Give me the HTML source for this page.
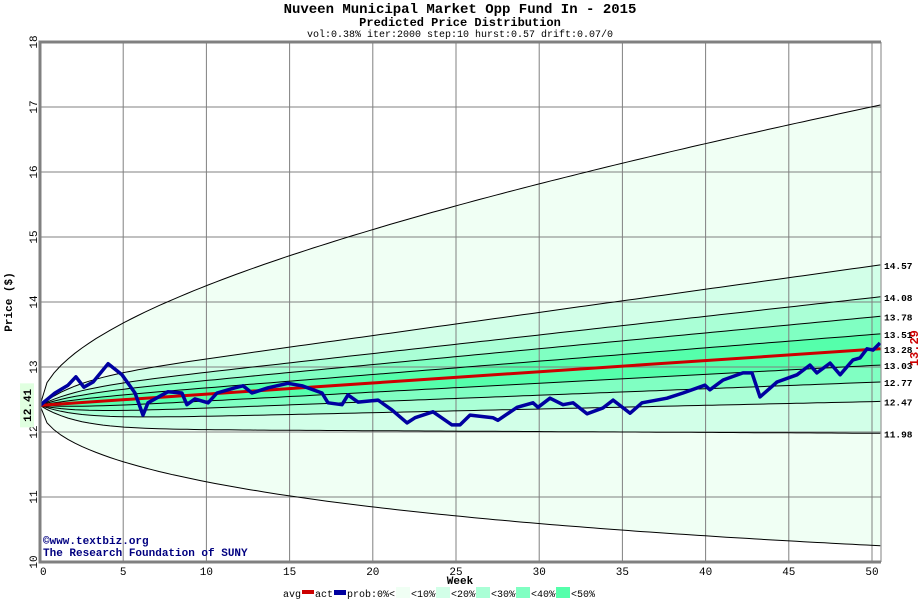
<!DOCTYPE html>
<html><head><meta charset="utf-8"><style>
body{margin:0;background:#fff;}
svg{display:block;font-family:"Liberation Mono",monospace;}
</style></head><body>
<svg id="chart" width="920" height="600" xmlns="http://www.w3.org/2000/svg">
<text x="460" y="13" text-anchor="middle" font-size="14" font-weight="bold">Nuveen Municipal Market Opp Fund In - 2015</text>
<text x="460" y="26" text-anchor="middle" font-size="12" font-weight="bold">Predicted Price Distribution</text>
<text x="460" y="37" text-anchor="middle" font-size="10">vol:0.38% iter:2000 step:10 hurst:0.57 drift:0.07/0</text>
<g id="plot"></g>
<text x="460" y="584" text-anchor="middle" font-size="11" font-weight="bold">Week</text>
<text transform="translate(12,302) rotate(-90)" text-anchor="middle" font-size="11" font-weight="bold">Price ($)</text>
<text x="43" y="544" font-size="11" font-weight="bold" fill="#000080">©www.textbiz.org</text>
<text x="43" y="556" font-size="11" font-weight="bold" fill="#000080">The Research Foundation of SUNY</text>
<g id="legend" font-size="10"></g>
</svg>
<script>
const weeks=[0,0.9,1.68,2.16,2.64,3.19,4.09,4.93,5.71,6.19,6.49,7.69,8.53,8.83,9.31,10.1,10.64,11.72,12.2,12.74,13.7,14.9,15.75,16.95,17.31,18.15,18.51,19.11,20.31,21.15,22.06,22.54,23.62,24.76,25.24,25.84,27.22,27.52,28.67,29.63,29.93,30.65,31.43,32.03,32.87,33.83,34.44,35.46,36.18,37.68,38.64,39.96,40.26,41.05,42.25,42.79,43.27,44.29,45.49,46.27,46.69,47.48,48.08,48.86,49.28,49.7,50.06,50.48];
const prices=[12.41,12.60,12.72,12.85,12.69,12.77,13.05,12.88,12.60,12.26,12.45,12.62,12.60,12.42,12.51,12.45,12.60,12.68,12.71,12.60,12.68,12.75,12.71,12.60,12.45,12.42,12.57,12.46,12.49,12.34,12.14,12.22,12.31,12.11,12.11,12.26,12.22,12.18,12.38,12.45,12.38,12.52,12.42,12.45,12.28,12.37,12.49,12.29,12.45,12.52,12.60,12.72,12.65,12.80,12.91,12.91,12.54,12.77,12.88,13.03,12.91,13.06,12.88,13.11,13.14,13.28,13.26,13.37];
const quantileEnds=[17.03,14.57,14.08,13.78,13.51,13.28,13.03,12.77,12.47,11.98,10.25];
const quantileLabels=["","14.57","14.08","13.78","13.51","13.28","13.03","12.77","12.47","11.98",""];
const startPrice=12.41, avgEnd=13.28, lastPrice=13.29, endWeek=50.5;
const xTicks=[0,5,10,15,20,25,30,35,40,45,50];
const yTicks=[10,11,12,13,14,15,16,17,18];
const bandColors=["#f0fff4","#d2ffe8","#aaffd6","#80ffc2","#55ffab"];
const legendLabels=["<10%<","<20%<","<30%<","<40%<","<50%"];

const NS="http://www.w3.org/2000/svg";
const X0=40,X1=881,Y0=42,Y1=562;
const xs=w=>X0+w*16.64;
const ys=p=>Y1-(p-10)*65;
const plot=document.getElementById('plot');
function el(t,a,parent){const e=document.createElementNS(NS,t);for(const k in a)e.setAttribute(k,a[k]);(parent||plot).appendChild(e);return e;}
function fracInner(t){return (0.28+0.72*t/endWeek)*(1-Math.exp(-t/2));}
function fracOuter(t){return Math.sqrt(t/endWeek);}
function qv(end,t,outer){const m=startPrice+(avgEnd-startPrice)*t/endWeek;const f=outer?fracOuter(t)/fracOuter(endWeek):fracInner(t)/fracInner(endWeek);return m+(end-avgEnd)*f;}
function curve(i){const end=quantileEnds[i];const outer=(i==0||i==quantileEnds.length-1);const pts=[];for(let k=0;k<=120;k++){const t=k*endWeek/120;pts.push([xs(t),ys(qv(end,t,outer))]);}return pts;}

const bg=el('rect',{x:X0,y:Y0,width:X1-X0,height:Y1-Y0,fill:'#fff'});


for(let b=0;b<5;b++){
  const up=curve(b),lo=curve(quantileEnds.length-1-b).reverse();
  const d='M'+up.concat(lo).map(p=>p[0].toFixed(1)+','+p[1].toFixed(1)).join('L')+'Z';
  const p=el('path',{d:d,fill:bandColors[b]});
  
  
}
xTicks.forEach(w=>{
  const l=el('line',{x1:xs(w),x2:xs(w),y1:Y0,y2:Y1,stroke:'#808080','stroke-width':1});
  
  
  const t=el('text',{x:xs(w),y:Y1+13,'text-anchor':w==0?'start':'middle','font-size':11});
  t.textContent=w;
  
  
});
yTicks.forEach(v=>{
  const l=el('line',{x1:X0,x2:X1,y1:ys(v),y2:ys(v),stroke:'#808080','stroke-width':1});
  
  
  const t=el('text',{transform:`translate(37,${ys(v)}) rotate(-90)`,'text-anchor':'middle','font-size':11});
  t.textContent=v;
  
  
});
quantileEnds.forEach((e,i)=>{
  const pts=curve(i);
  const pl=el('polyline',{points:pts.map(p=>p[0].toFixed(1)+','+p[1].toFixed(1)).join(' '),fill:'none',stroke:'#000','stroke-width':1});
  
  
  if(quantileLabels[i]){
    const t=el('text',{x:884,y:ys(e)+4,'font-size':9.5,'font-weight':'bold'});
    t.textContent=quantileLabels[i];
    
    
  }
});
const avg=el('line',{x1:xs(0),y1:ys(startPrice),x2:xs(endWeek),y2:ys(avgEnd),stroke:'#cc0000','stroke-width':3});


const act=el('polyline',{points:weeks.map((w,i)=>xs(w).toFixed(1)+','+ys(prices[i]).toFixed(1)).join(' '),fill:'none',stroke:'#0000a0','stroke-width':3.5,'stroke-linejoin':'round'});


const br=el('path',{d:`M${X1},${Y0}H${X0}V${Y1}H${X1}`,fill:'none',stroke:'#808080','stroke-width':3});


const rb=el('line',{x1:X1,x2:X1,y1:Y0,y2:Y1,stroke:'#808080','stroke-width':1});


const sb=el('rect',{x:20,y:ys(startPrice)-22,width:14,height:44,fill:'#e0ffe0'});


const st=el('text',{transform:`translate(31,${ys(startPrice)}) rotate(-90)`,'text-anchor':'middle','font-size':11,'font-weight':'bold'});
st.textContent=startPrice.toFixed(2);


const lt=el('text',{transform:`translate(918,${ys(lastPrice)}) rotate(-90)`,'text-anchor':'middle','font-size':12,'font-weight':'bold',fill:'#cc0000'});
lt.textContent=lastPrice.toFixed(2);


const lg=document.getElementById('legend');
let lx=283;
function ltext(s,x){const t=el('text',{x:x,y:597},lg);t.textContent=s;return x+s.length*6;}
lx=ltext('avg',lx);
let s1=el('rect',{x:lx+1,y:590,width:12,height:4,fill:'#cc0000'},lg);


lx=ltext('act',lx+14);
let s2=el('rect',{x:lx+1,y:590,width:12,height:5,fill:'#0000a0'},lg);


lx=ltext('prob:0%<',lx+14);
legendLabels.forEach((s,i)=>{
  const r=el('rect',{x:lx+1,y:587,width:14,height:11,fill:bandColors[i]},lg);
  
  
  lx=ltext(s,lx+16)-6;
});
</script>
</body></html>
